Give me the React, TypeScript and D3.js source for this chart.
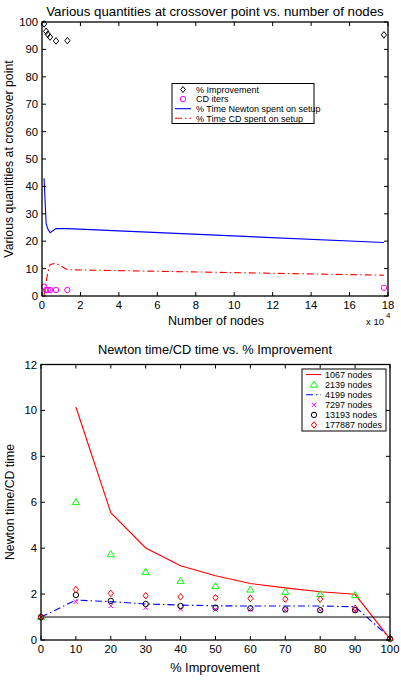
import React from "react";
import * as d3 from "d3";

// ---- Top chart data ----
const nodes = [1067, 2139, 3000, 4199, 7297, 13193, 177887];
const pctImprovement = [99.3, 96.6, 95.5, 94.5, 93.1, 93.2, 95.3];
const cdIters = [3.4, 2.2, 2.2, 2.2, 2.2, 2.2, 3.0];
const newtonSetup = [43, 26.5, 24.5, 23.1, 24.6, 24.6, 19.5];
const cdSetup = [0.3, 5, 8.5, 11.5, 12, 9.6, 7.6];
const topXTicks = [0, 2, 4, 6, 8, 10, 12, 14, 16, 18];
const topYTicks = [0, 10, 20, 30, 40, 50, 60, 70, 80, 90, 100];

// ---- Bottom chart data ----
const improvement = [0, 10, 20, 30, 40, 50, 60, 70, 80, 90, 100];
const s1067 = [NaN, 10.15, 5.55, 4.01, 3.23, 2.8, 2.46, 2.27, 2.1, 1.99, 0.05];
const s2139 = [1, 6.01, 3.74, 2.97, 2.58, 2.35, 2.2, 2.1, 2.0, 1.96, 0.1];
const s4199 = [1, 1.74, 1.67, 1.57, 1.52, 1.49, 1.48, 1.48, 1.48, 1.45, 0.1];
const s7297 = [1, 1.67, 1.49, 1.41, 1.35, 1.33, 1.33, 1.3, 1.3, 1.28, 0.05];
const s13193 = [1, 1.96, 1.7, 1.57, 1.48, 1.41, 1.38, 1.33, 1.3, 1.3, 0.05];
const s177887 = [1, 2.2, 2.03, 1.93, 1.88, 1.84, 1.81, 1.78, 1.78, 1.38, 0.05];
const refLine = [1, 1];
const botXTicks = [0, 10, 20, 30, 40, 50, 60, 70, 80, 90, 100];
const botYTicks = [0, 2, 4, 6, 8, 10, 12];

const FONT = "'Liberation Sans', Arial, Helvetica, sans-serif";
const DASHDOT = "7,3,1.5,3";

const Diamond = ({ x, y, c, s = 3.3 }: any) => (
  <path d={`M${x},${y - s}L${x + s * 0.8},${y}L${x},${y + s}L${x - s * 0.8},${y}Z`} fill="none" stroke={c} strokeWidth={1} />
);
const Circle = ({ x, y, c }: any) => <circle cx={x} cy={y} r={2.7} fill="none" stroke={c} strokeWidth={1} />;
const Tri = ({ x, y, c }: any) => (
  <path d={`M${x},${y - 3.5}L${x + 3.6},${y + 2.6}L${x - 3.6},${y + 2.6}Z`} fill="none" stroke={c} strokeWidth={1} />
);
const XMark = ({ x, y, c }: any) => (
  <path d={`M${x - 2.2},${y - 2.2}L${x + 2.2},${y + 2.2}M${x - 2.2},${y + 2.2}L${x + 2.2},${y - 2.2}`} stroke={c} strokeWidth={1} />
);

function Frame({ x, y, xTicks, yTicks }: any) {
  const [x0, x1] = x.range();
  const [y0, y1] = y.range();
  const tl = 4;
  return (
    <g>
      {xTicks.map((t: number) => (
        <g key={"x" + t}>
          <line x1={x(t)} x2={x(t)} y1={y0} y2={y0 - tl} stroke="#000" />
          <line x1={x(t)} x2={x(t)} y1={y1} y2={y1 + tl} stroke="#000" />
          <text x={x(t)} y={y0 + 13} fontSize={11.3} textAnchor="middle" fontFamily={FONT}>
            {t}
          </text>
        </g>
      ))}
      {yTicks.map((t: number) => (
        <g key={"y" + t}>
          <line x1={x0} x2={x0 + tl} y1={y(t)} y2={y(t)} stroke="#000" />
          <line x1={x1} x2={x1 - tl} y1={y(t)} y2={y(t)} stroke="#000" />
          <text x={x0 - 4} y={y(t) + 4} fontSize={11.3} textAnchor="end" fontFamily={FONT}>
            {t}
          </text>
        </g>
      ))}
      <rect x={x0} y={y1} width={x1 - x0} height={y0 - y1} fill="none" stroke="#000" strokeWidth={1.3} />
    </g>
  );
}

export default function App() {
  // top
  const xT = d3.scaleLinear().domain([0, 18]).range([42, 388]);
  const yT = d3.scaleLinear().domain([0, 100]).range([296, 22]);
  const nx = (n: number) => xT(n / 1e4);
  const lineT = (vals: number[]) =>
    d3.line<number>().defined((v) => !isNaN(v)).x((_, i) => nx(nodes[i])).y((v) => yT(v))(vals) as string;

  // bottom
  const xB = d3.scaleLinear().domain([0, 100]).range([41, 390]);
  const yB = d3.scaleLinear().domain([0, 12]).range([640, 364.5]);
  const lineB = (vals: number[]) =>
    d3.line<number>().defined((v) => !isNaN(v)).x((_, i) => xB(improvement[i])).y((v) => yB(v))(vals) as string;

  const topLegend = [
    { label: "% Improvement", kind: "diamond" },
    { label: "CD iters", kind: "circle" },
    { label: "% Time Newton spent on setup", kind: "blue" },
    { label: "% Time CD spent on setup", kind: "red" },
  ];
  const botLegend = [
    { label: "1067 nodes", kind: "redline" },
    { label: "2139 nodes", kind: "tri" },
    { label: "4199 nodes", kind: "bluedd" },
    { label: "7297 nodes", kind: "x" },
    { label: "13193 nodes", kind: "circle" },
    { label: "177887 nodes", kind: "diamond" },
  ];

  return (
    <svg width={401} height={680} style={{ position: "absolute", left: 0, top: 0, background: "#fff" }}>
      <rect width={401} height={680} fill="#fff" />
      {/* ---------- TOP CHART ---------- */}
      <text x={215} y={16} fontSize={13.3} textAnchor="middle" fontFamily={FONT}>
        Various quantities at crossover point vs. number of nodes
      </text>
      <path d={lineT(newtonSetup)} fill="none" stroke="#0000ff" strokeWidth={1.1} />
      <path d={lineT(cdSetup)} fill="none" stroke="#ff0000" strokeWidth={1.1} strokeDasharray={DASHDOT} />
      {pctImprovement.map((v, i) => (
        <Diamond key={"d" + i} x={nx(nodes[i])} y={yT(v)} c="#000" />
      ))}
      {cdIters.map((v, i) => (
        <Circle key={"c" + i} x={nx(nodes[i])} y={yT(v)} c="#ff00ff" />
      ))}
      <Frame x={xT} y={yT} xTicks={topXTicks} yTicks={topYTicks} />
      <text x={216} y={325} fontSize={12.5} textAnchor="middle" fontFamily={FONT}>
        Number of nodes
      </text>
      <text x={366} y={325} fontSize={9.5} fontFamily={FONT}>
        x 10
      </text>
      <text x={386} y={318} fontSize={8} fontFamily={FONT}>
        4
      </text>
      <text transform="translate(13,159) rotate(-90)" fontSize={12.3} textAnchor="middle" fontFamily={FONT}>
        Various quantities at crossover point
      </text>
      {/* top legend */}
      <rect x={172} y={83.5} width={142} height={40} fill="#fff" stroke="#000" strokeWidth={1} />
      {topLegend.map((e, i) => {
        const ry = 89.5 + i * 9.6;
        return (
          <g key={"tl" + i}>
            {e.kind === "diamond" && <Diamond x={183} y={ry} c="#000" s={3} />}
            {e.kind === "circle" && <Circle x={183} y={ry} c="#ff00ff" />}
            {e.kind === "blue" && <line x1={175} x2={191} y1={ry} y2={ry} stroke="#0000ff" strokeWidth={1.1} />}
            {e.kind === "red" && (
              <line x1={175} x2={191} y1={ry} y2={ry} stroke="#ff0000" strokeWidth={1.1} strokeDasharray={DASHDOT} />
            )}
            <text x={196} y={ry + 3.3} fontSize={9} fontFamily={FONT}>
              {e.label}
            </text>
          </g>
        );
      })}

      {/* ---------- BOTTOM CHART ---------- */}
      <text x={215} y={354} fontSize={12.8} textAnchor="middle" fontFamily={FONT}>
        Newton time/CD time vs. % Improvement
      </text>
      <path d={lineB(s1067)} fill="none" stroke="#ff0000" strokeWidth={1.1} />
      <path d={lineB(s4199)} fill="none" stroke="#0000ff" strokeWidth={1.1} strokeDasharray={DASHDOT} />
      <path
        d={d3.line<number>().x((_, i) => xB(i === 0 ? 0 : 100)).y((v) => yB(v))(refLine) as string}
        fill="none"
        stroke="#000"
        strokeWidth={1}
      />
      {s2139.map((v, i) => (
        <Tri key={"t" + i} x={xB(improvement[i])} y={yB(v)} c="#00ff00" />
      ))}
      {s7297.map((v, i) => (
        <XMark key={"m" + i} x={xB(improvement[i])} y={yB(v)} c="#ff00ff" />
      ))}
      {s13193.map((v, i) => (
        <Circle key={"o" + i} x={xB(improvement[i])} y={yB(v)} c="#000" />
      ))}
      {s177887.map((v, i) => (
        <Diamond key={"r" + i} x={xB(improvement[i])} y={yB(v)} c="#ff0000" />
      ))}
      <Frame x={xB} y={yB} xTicks={botXTicks} yTicks={botYTicks} />
      <text x={215} y={672} fontSize={12.8} textAnchor="middle" fontFamily={FONT}>
        % Improvement
      </text>
      <text transform="translate(14,502) rotate(-90)" fontSize={12.3} textAnchor="middle" fontFamily={FONT}>
        Newton time/CD time
      </text>
      {/* bottom legend */}
      <rect x={302} y={369} width={84} height={62} fill="#fff" stroke="#000" strokeWidth={1} />
      {botLegend.map((e, i) => {
        const ry = 374.5 + i * 10.1;
        const mx = 314;
        return (
          <g key={"bl" + i}>
            {e.kind === "redline" && <line x1={306} x2={321} y1={ry} y2={ry} stroke="#ff0000" strokeWidth={1.1} />}
            {e.kind === "tri" && <Tri x={mx} y={ry} c="#00ff00" />}
            {e.kind === "bluedd" && (
              <line x1={306} x2={321} y1={ry} y2={ry} stroke="#0000ff" strokeWidth={1.1} strokeDasharray={DASHDOT} />
            )}
            {e.kind === "x" && <XMark x={mx} y={ry} c="#ff00ff" />}
            {e.kind === "circle" && <Circle x={mx} y={ry} c="#000" />}
            {e.kind === "diamond" && <Diamond x={mx} y={ry} c="#ff0000" />}
            <text x={325} y={ry + 3.3} fontSize={9} fontFamily={FONT}>
              {e.label}
            </text>
          </g>
        );
      })}
    </svg>
  );
}
